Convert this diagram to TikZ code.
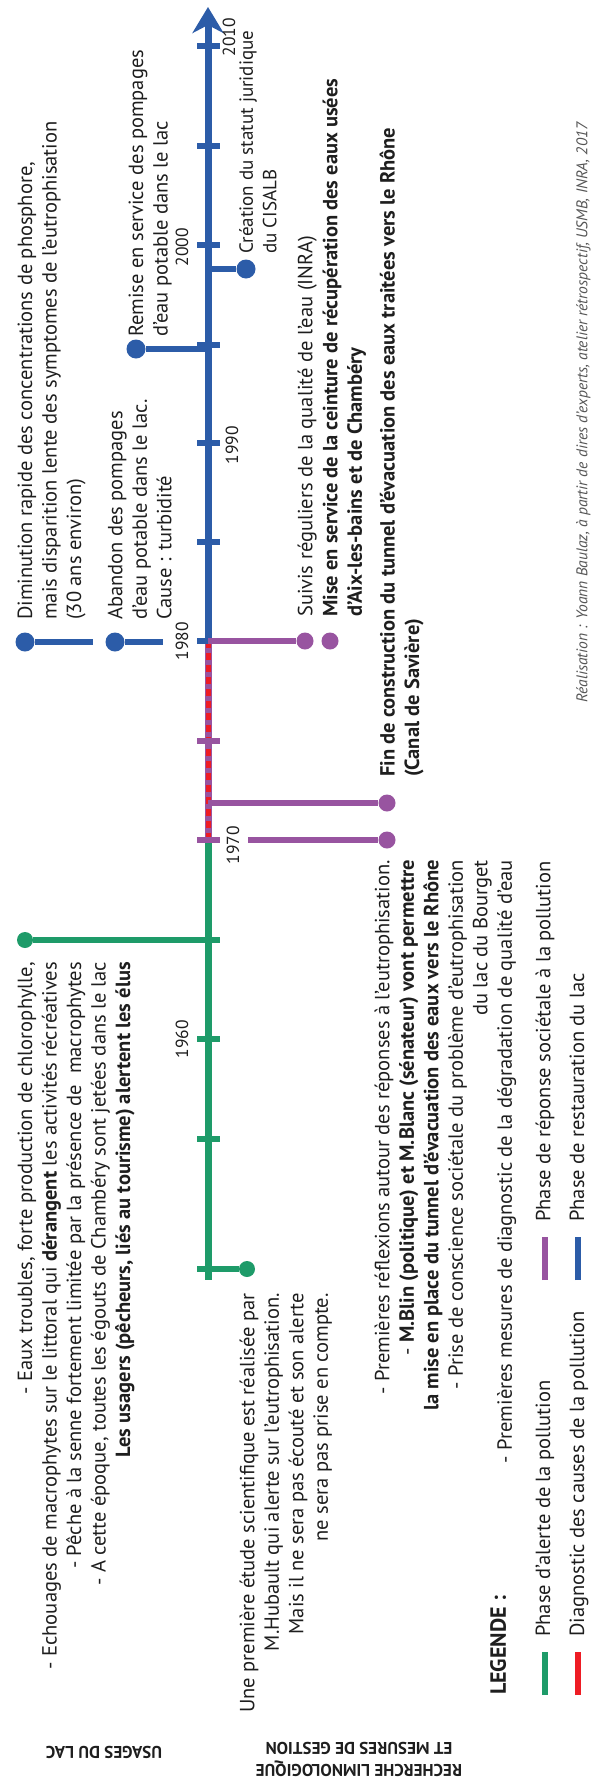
\documentclass[tikz,border=0pt]{standalone}
\usepackage{fontspec}
\setmainfont{PT Sans}
\usetikzlibrary{arrows.meta,backgrounds}
\definecolor{cblue}{RGB}{44,92,168}
\definecolor{cgreen}{RGB}{30,155,105}
\definecolor{cpurple}{RGB}{152,84,160}
\definecolor{cred}{RGB}{238,28,36}
\definecolor{ctext}{RGB}{30,30,30}
\definecolor{cgray}{RGB}{85,85,85}
\begin{document}
\begin{tikzpicture}[x=1pt,y=-1pt,
  txt/.style={font=\fontsize{20.5}{24.5}\selectfont, text=ctext, inner sep=0pt, rotate=90},
  lt/.style={txt, anchor=north west, align=left},
  rt/.style={txt, anchor=north east, align=right},
  bt/.style={font=\fontsize{20.5}{24.5}\selectfont\bfseries},
  yr/.style={font=\fontsize{17.5}{20}\selectfont, text=ctext, inner sep=0pt, rotate=90},
  stem/.style={line width=6.5pt},
  tickmark/.style={line width=6pt},
  bdot/.style={circle, inner sep=0pt, minimum size=19pt, fill=cblue},
  pdot/.style={circle, inner sep=0pt, minimum size=17pt, fill=cpurple},
  gdot/.style={circle, inner sep=0pt, minimum size=16pt, fill=cgreen},
  lbar/.style={line width=6pt},
  caps/.style={font=\fontsize{17}{22}\selectfont\bfseries, text=ctext, inner sep=0pt, rotate=180, align=center}
]
\begin{scope}[on background layer]
\fill[white] (0,0) rectangle (596,1780);
\end{scope}
\useasboundingbox (0,0) rectangle (596,1780);

% axis coordinates
\coordinate (top) at (208,7);
\coordinate (y1980) at (208,641);
\coordinate (y1970) at (208,840);
\coordinate (bot) at (208,1280);

% dots (event markers)
\node[bdot] (dDim) at (25,642) {};
\node[bdot] (dAb) at (115,642) {};
\node[bdot] (dRem) at (136,349) {};
\node[bdot] (dCre) at (246,269) {};
\node[pdot] (dSui) at (305,641) {};
\node[pdot] (dMise) at (330,641) {};
\node[pdot] (dFin) at (387,803) {};
\node[pdot] (dRef) at (387,840) {};
\node[gdot] (dEaux) at (25,940) {};
\node[gdot] (dHub) at (247,1269) {};

% stem end points
\coordinate (eDim) at (93,642);
\coordinate (eAb) at (163,642);
\coordinate (aRem) at (208,349);
\coordinate (aCre) at (208,269);
\coordinate (aFin) at (208,803);
\coordinate (eRef) at (248,840);
\coordinate (aEaux) at (208,940);
\coordinate (aHub) at (208,1269);

\begin{scope}[on background layer]
% axis
\draw[cgreen, line width=7pt] (y1970) -- (bot);
\draw[cpurple, line width=7pt] (y1980) -- (y1970);
\draw[cred, line width=5pt, dash pattern=on 7pt off 5pt] (y1980) -- (y1970);
\draw[cblue, line width=7pt, -{Stealth[length=26pt,width=31pt,inset=8pt]}] (y1980) -- (top);
% ticks
\foreach \p in {46,146,245,345,443,542}
  \draw[cblue, tickmark] (197,\p) -- (220,\p);
\draw[cblue, tickmark] (197,641) -- (208,641);
\foreach \p in {741,840}
  \draw[cpurple, tickmark] (197,\p) -- (220,\p);
\foreach \p in {940,1039,1139}
  \draw[cgreen, tickmark] (197,\p) -- (220,\p);
\draw[cgreen, tickmark] (197,1269) -- (208,1269);
% stems
\draw[cblue, stem] (dDim) -- (eDim);
\draw[cblue, stem] (dAb) -- (eAb);
\draw[cblue, stem] (dRem) -- (aRem);
\draw[cblue, stem] (dCre) -- (aCre);
\draw[cpurple, stem] (y1980) -- (dSui);
\draw[cpurple, stem] (aFin) -- (dFin);
\draw[cpurple, stem] (eRef) -- (dRef);
\draw[cgreen, stem] (dEaux) -- (aEaux);
\draw[cgreen, stem] (aHub) -- (dHub);
\end{scope}

% year labels
\node[yr] (l2010) at (229,37) {2010};
\node[yr] (l2000) at (182,247) {2000};
\node[yr] (l1990) at (232,445) {1990};
\node[yr] (l1980) at (182,641) {1980};
\node[yr] (l1970) at (233,845) {1970};
\node[yr] (l1960) at (182,1039) {1960};

% event texts
\node[lt] (tDim) at (17.5,620) {Diminution rapide des concentrations de phosphore,\\ mais disparition lente des symptomes de l'eutrophisation\\ (30 ans environ)};
\node[lt] (tAb) at (107.5,620) {Abandon des pompages\\ d'eau potable dans le lac.\\ Cause : turbidité};
\node[lt] (tRem) at (128.5,337) {Remise en service des pompages\\ d'eau potable dans le lac};
\node[lt, font=\fontsize{19}{23.5}\selectfont] (tCre) at (239,254) {Création du statut juridique\\ du CISALB};
\node[lt] (tSui) at (297.5,617) {Suivis réguliers de la qualité de l'eau (INRA)};
\node[lt, bt] (tMise) at (322.5,617) {Mise en service de la ceinture de récupération des eaux usées\\ d'Aix-les-bains et de Chambéry};
\node[lt, bt] (tFin) at (379.5,777) {Fin de construction du tunnel d'évacuation des eaux traitées vers le Rhône\\ (Canal de Savière)};

\node[rt] (tEaux) at (17.5,962) {- Eaux troubles, forte production de chlorophylle,\\
- Echouages de macrophytes sur le littoral qui \textbf{dérangent} les activités récréatives\\
- Pêche à la senne fortement limitée par la présence de\ \ macrophytes\\
- A cette époque, toutes les égouts de Chambéry sont jetées dans le lac\\
\textbf{Les usagers (pêcheurs, liés au tourisme) alertent les élus}};

\node[rt] (tHub) at (239.5,1293) {Une première étude scientifique est réalisée par\\
M.Hubault qui alerte sur l'eutrophisation.\\
Mais il ne sera pas écouté et son alerte\\
ne sera pas prise en compte.};

\node[rt] (tRef) at (374.5,860) {- Premières réflexions autour des réponses à l'eutrophisation.\\
- \textbf{M.Blin (politique) et M.Blanc (sénateur) vont permettre}\\
\textbf{la mise en place du tunnel d'évacuation des eaux vers le Rhône}\\
- Prise de conscience sociétale du problème d'eutrophisation\\
du lac du Bourget\\
- Premières mesures de diagnostic de la dégradation de qualité d'eau};

% legend
\node[lt, font=\fontsize{22}{26}\selectfont\bfseries] (tLeg) at (490,1695) {LEGENDE :};
\coordinate (g1a) at (545,1695); \coordinate (g1b) at (545,1652);
\coordinate (g2a) at (578,1695); \coordinate (g2b) at (578,1652);
\coordinate (g3a) at (545,1280); \coordinate (g3b) at (545,1237);
\coordinate (g4a) at (578,1280); \coordinate (g4b) at (578,1237);
\draw[cgreen, lbar] (g1a) -- (g1b);
\draw[cred, lbar] (g2a) -- (g2b);
\draw[cpurple, lbar] (g3a) -- (g3b);
\draw[cblue, lbar] (g4a) -- (g4b);
\node[lt] (lg1) at (535.5,1637) {Phase d'alerte de la pollution};
\node[lt] (lg2) at (569.5,1637) {Diagnostic des causes de la pollution};
\node[lt] (lg3) at (535.5,1222) {Phase de réponse sociétale à la pollution};
\node[lt] (lg4) at (569.5,1222) {Phase de restauration du lac};

% credits
\node[lt, font=\fontsize{15.5}{18}\selectfont\itshape, text=cgray] (tCred) at (576,703) {Réalisation : Yoann Baulaz, à partir de dires d'experts, atelier rétrospectif, USMB, INRA, 2017};

% side labels (upside down)
\node[caps] (sUs) at (104,1752) {USAGES DU LAC};
\node[caps] (sRe) at (359,1759) {RECHERCHE LIMNOLOGIQUE\\ ET MESURES DE GESTION};
\end{tikzpicture}
\end{document}
